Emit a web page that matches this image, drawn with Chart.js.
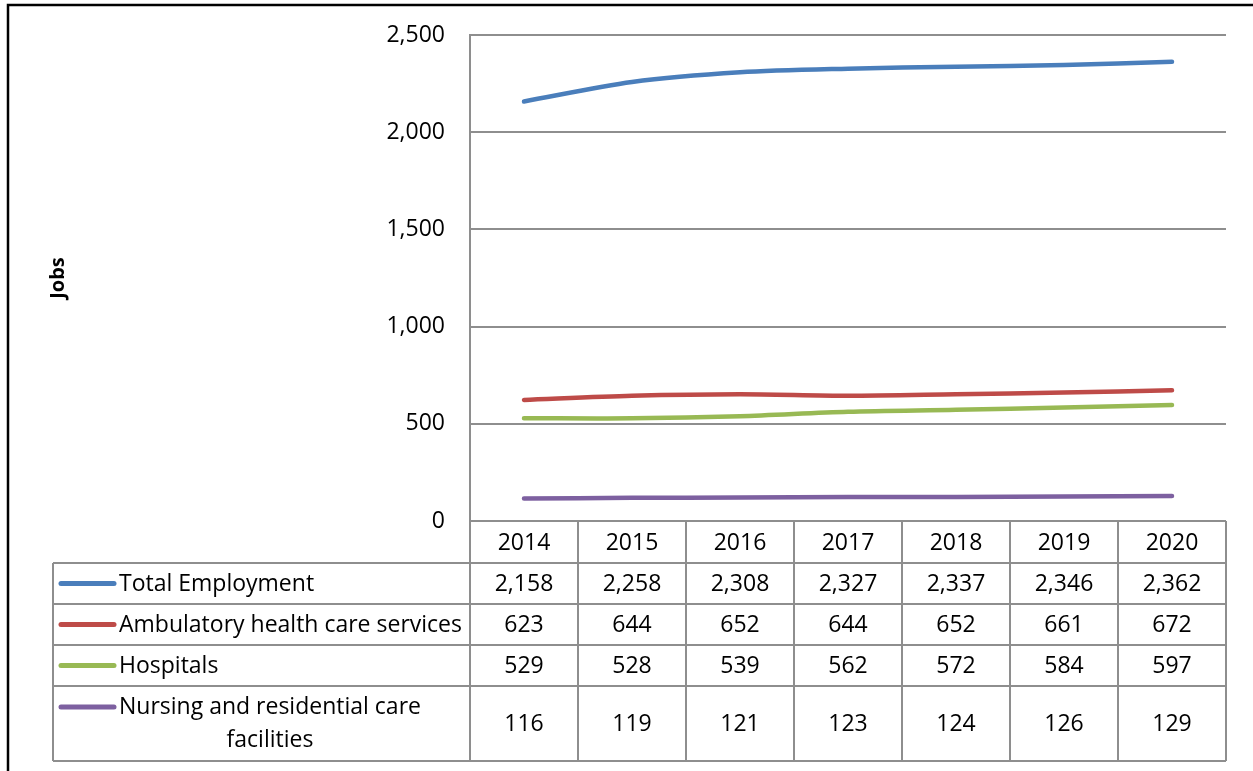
<!DOCTYPE html>
<html><head><meta charset="utf-8">
<script src="https://cdn.jsdelivr.net/npm/chart.js@4/dist/chart.umd.min.js"></script>
<style>html,body{margin:0;padding:0;background:#fff}#wrap{width:1253px;height:771px;position:relative}</style>
</head><body><div id="wrap"><canvas id="c" width="1253" height="771"></canvas></div>
<script>
const years = ['2014', '2015', '2016', '2017', '2018', '2019', '2020'];
const totalEmployment = [2158, 2258, 2308, 2327, 2337, 2346, 2362];
const ambulatory = [623, 644, 652, 644, 652, 661, 672];
const hospitals = [529, 528, 539, 562, 572, 584, 597];
const nursing = [116, 119, 121, 123, 124, 126, 129];
const seriesNames = ['Total Employment', 'Ambulatory health care services', 'Hospitals', 'Nursing and residential care facilities'];
const seriesColors = ['#4A7EBB', '#BE4B48', '#98B954', '#7D60A0'];
const yTicks = [0, 500, 1000, 1500, 2000, 2500];
const yTitle = 'Jobs';

const FONT = '"Open Sans", "Noto Sans", sans-serif';
const FS = 23;
const GRID = '#8e8e8e';
const fmt = v => v.toLocaleString('en-US');

const seriesData = [totalEmployment, ambulatory, hospitals, nursing];

const tablePlugin = {
  id: 'dataTable',
  afterDraw(chart) {
    const ctx = chart.ctx;
    const ca = chart.chartArea;
    const xs = chart.scales.x;
    const n = years.length;
    const cw = (ca.right - ca.left) / n;
    const top = ca.bottom;
    const rowEdges = [top, top + 42, top + 83, top + 124, top + 165, top + 240];
    const leftX = 53;
    ctx.save();
    ctx.strokeStyle = GRID;
    ctx.lineWidth = 2;
    ctx.beginPath();
    ctx.moveTo(ca.left, rowEdges[0]); ctx.lineTo(ca.right, rowEdges[0]);
    for (let i = 1; i < rowEdges.length; i++) {
      ctx.moveTo(leftX, rowEdges[i]); ctx.lineTo(ca.right, rowEdges[i]);
    }
    for (let i = 0; i <= n; i++) {
      const x = ca.left + i * cw;
      ctx.moveTo(x, rowEdges[0]); ctx.lineTo(x, rowEdges[rowEdges.length - 1]);
    }
    ctx.moveTo(leftX, rowEdges[1]); ctx.lineTo(leftX, rowEdges[rowEdges.length - 1]);
    ctx.stroke();

    ctx.fillStyle = '#000';
    ctx.font = FS + 'px ' + FONT;
    ctx.textAlign = 'center';
    ctx.textBaseline = 'middle';
    years.forEach((y, i) => {
      ctx.fillText(y, xs.getPixelForValue(i), (rowEdges[0] + rowEdges[1]) / 2 + 1);
    });
    seriesData.forEach((arr, r) => {
      const cy = (rowEdges[r + 1] + rowEdges[r + 2]) / 2 + 1;
      arr.forEach((v, i) => {
        ctx.textAlign = 'center';
        ctx.fillText(fmt(v), xs.getPixelForValue(i), cy);
      });
      const my = r === 3 ? rowEdges[4] + 21 : cy - 1;
      ctx.strokeStyle = seriesColors[r];
      ctx.lineWidth = 5;
      ctx.lineCap = 'round';
      ctx.beginPath();
      ctx.moveTo(61, my); ctx.lineTo(114, my); ctx.stroke();
      ctx.textAlign = 'left';
      if (r === 3) {
        ctx.fillText('Nursing and residential care', 119, my);
        ctx.textAlign = 'center';
        ctx.fillText('facilities', 270, my + 33);
      } else {
        ctx.fillText(seriesNames[r], 119, cy);
      }
    });

    ctx.strokeStyle = '#000';
    ctx.lineWidth = 2.5;
    ctx.lineCap = 'butt';
    ctx.beginPath();
    ctx.moveTo(8, 771); ctx.lineTo(8, 5); ctx.lineTo(1253, 5);
    ctx.stroke();
    ctx.restore();
  }
};

new Chart(document.getElementById('c'), {
  type: 'line',
  data: {
    labels: years,
    datasets: seriesData.map((d, i) => ({
      label: seriesNames[i],
      data: d,
      borderColor: seriesColors[i],
      backgroundColor: seriesColors[i],
      borderWidth: 4.5,
      pointRadius: 0,
      tension: 0.3,
      borderCapStyle: 'round',
      fill: false
    }))
  },
  options: {
    responsive: false,
    animation: false,
    devicePixelRatio: 1,
    layout: { padding: { top: 35, right: 27, bottom: 250, left: 0 } },
    plugins: { legend: { display: false }, tooltip: { enabled: false } },
    scales: {
      x: {
        type: 'category',
        display: false,
        offset: true
      },
      y: {
        min: 0, max: 2500,
        afterBuildTicks(scale) { scale.ticks = yTicks.map(v => ({ value: v })); },
        afterFit(scale) { scale.width = 470; scale.paddingTop = 0; scale.paddingBottom = 0; },
        ticks: {
          color: '#000',
          font: { family: FONT, size: FS },
          padding: 25,
          callback: v => fmt(v)
        },
        grid: { color: GRID, lineWidth: 2, drawTicks: false },
        border: { display: true, color: GRID, width: 2 },
        title: {
          display: true,
          text: yTitle,
          color: '#000',
          font: { family: FONT, size: 20, weight: 'bold' },
          padding: { top: 46, bottom: 0 }
        }
      }
    }
  },
  plugins: [tablePlugin]
});
</script>
</body></html>
